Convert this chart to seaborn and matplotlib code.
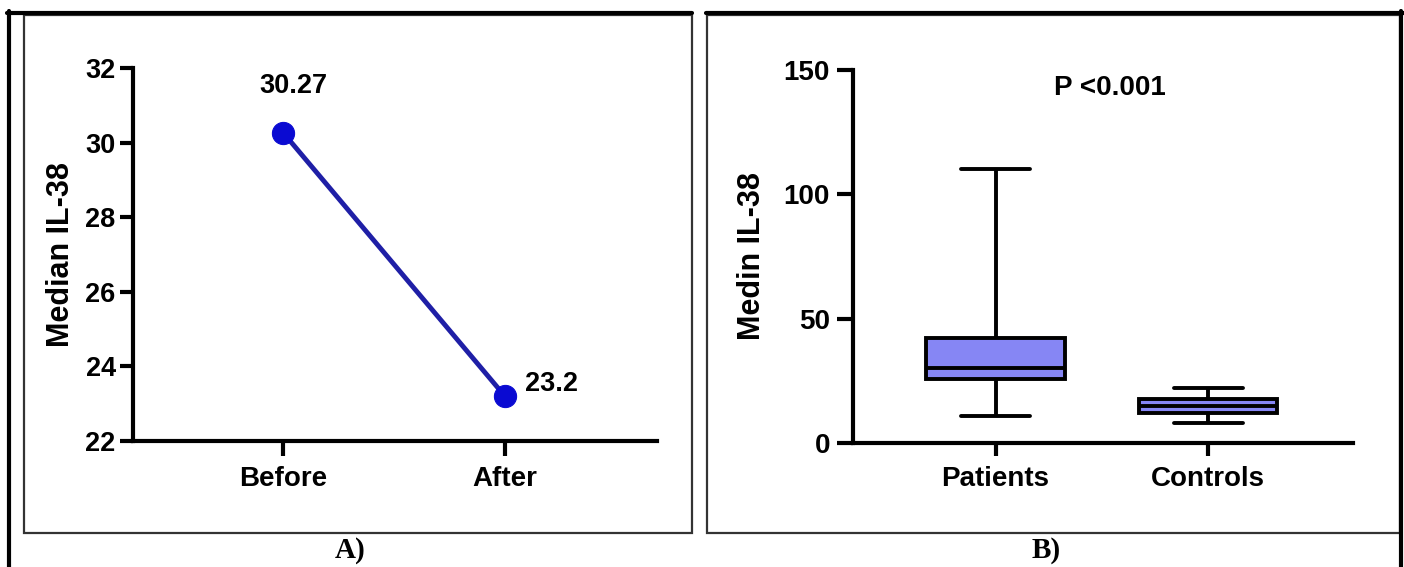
import pandas as pd
import seaborn as sns
import matplotlib.pyplot as plt
from matplotlib.lines import Line2D
from matplotlib.patches import Rectangle

# Panel A: median IL-38 before / after
stages = ["Before", "After"]
medians = [30.27, 23.2]
median_labels = ["30.27", "23.2"]

# Panel B: five-number summaries (min, Q1, median, Q3, max) per group
groups = ["Patients", "Controls"]
patients_vals = [11, 25.8, 30, 42.3, 110]
controls_vals = [8, 12, 15, 17.7, 22]
p_text = "P <0.001"

W, H = 1404, 567
sns.set_style("ticks")
plt.rcParams['font.family'] = ['Liberation Sans', 'DejaVu Sans']
for k in ['axes.edgecolor', 'text.color', 'axes.labelcolor', 'xtick.color', 'ytick.color']:
    plt.rcParams[k] = 'black'
narrow = ['Liberation Sans Narrow', 'Liberation Sans', 'DejaVu Sans']

fig = plt.figure(figsize=(W / 100, H / 100), dpi=100)


def fx(px):
    return px / W


def fy(py):
    return 1 - py / H


# table-like frames around the panels
for x0, x1 in [(24, 692), (707, 1400)]:
    fig.add_artist(Rectangle((fx(x0), fy(533)), fx(x1 - x0), (533 - 15) / H,
                             transform=fig.transFigure, fill=False,
                             edgecolor='#333333', lw=1.6))
fig.add_artist(Line2D([fx(9), fx(9)], [fy(11), 0], transform=fig.transFigure, color='black', lw=3))
fig.add_artist(Line2D([fx(1401), fx(1401)], [fy(11), 0], transform=fig.transFigure, color='black', lw=3))
fig.add_artist(Line2D([fx(7), fx(692)], [fy(13), fy(13)], transform=fig.transFigure, color='black', lw=3))
fig.add_artist(Line2D([fx(706), fx(1404)], [fy(13), fy(13)], transform=fig.transFigure, color='black', lw=3))

# ---------------- Panel A ----------------
axA = fig.add_axes([fx(133), fy(441), fx(657 - 133), (441 - 68) / H])
dfA = pd.DataFrame({"stage": stages, "median": medians})
sns.lineplot(data=dfA, x="stage", y="median", ax=axA, sort=False,
             color='#1f1fa6', lw=3.5, marker='o', markersize=16,
             markerfacecolor='#0a0ad2', markeredgecolor='#0a0ad2')
axA.set_xlim(-0.676, 1.685)
axA.set_ylim(22, 32)
axA.set_yticks(range(22, 33, 2))
axA.set_xlabel("")
axA.set_ylabel("Median IL-38", fontsize=22, fontweight='bold')
axA.yaxis.set_label_coords((76 - 133) / 524, 0.5)
for i, (v, t) in enumerate(zip(medians, median_labels)):
    dx, dy = (0.045, 1.25) if i == 0 else (0.21, 0.33)
    axA.text(i + dx, v + dy, t, ha='center', va='center', fontsize=19.5,
             fontweight='bold', family=narrow)
axA.tick_params(axis='y', length=9.5, width=3, pad=3, labelsize=19.5)
axA.tick_params(axis='x', length=11, width=3, pad=7, labelsize=20)
for lab in axA.get_xticklabels() + axA.get_yticklabels():
    lab.set_family(narrow)
    lab.set_fontweight('bold')
sns.despine(ax=axA)
for s in ['left', 'bottom']:
    axA.spines[s].set_linewidth(3)

# ---------------- Panel B ----------------
axB = fig.add_axes([fx(853), fy(443), fx(1353 - 853), (443 - 70) / H])
dfB = pd.DataFrame({"group": [groups[0]] * len(patients_vals) + [groups[1]] * len(controls_vals),
                    "value": patients_vals + controls_vals})
sns.boxplot(data=dfB, x="group", y="value", ax=axB, whis=(0, 100), width=0.65,
            color='#8686f4', saturation=1, linecolor='black', linewidth=2.8)
axB.set_xlim(-0.67, 1.68)
axB.set_ylim(0, 150)
axB.set_yticks([0, 50, 100, 150])
axB.set_xlabel("")
axB.set_ylabel("Medin IL-38", fontsize=22, fontweight='bold')
axB.yaxis.set_label_coords((767 - 853) / 500, 0.5)
axB.text(0.535, 142.7, p_text, ha='center', va='center', fontsize=20, fontweight='bold')
axB.tick_params(axis='y', length=11.5, width=3, pad=5, labelsize=20)
axB.tick_params(axis='x', length=9.5, width=3, pad=7, labelsize=20)
for lab in axB.get_xticklabels() + axB.get_yticklabels():
    lab.set_fontweight('bold')
sns.despine(ax=axB)
for s in ['left', 'bottom']:
    axB.spines[s].set_linewidth(3)

# panel letters
fig.text(fx(350), fy(551), "A)", ha='center', va='center', fontsize=21,
         fontweight='bold', family='Liberation Serif')
fig.text(fx(1046), fy(551), "B)", ha='center', va='center', fontsize=21,
         fontweight='bold', family='Liberation Serif')

fig.savefig("out.png", dpi=100)
